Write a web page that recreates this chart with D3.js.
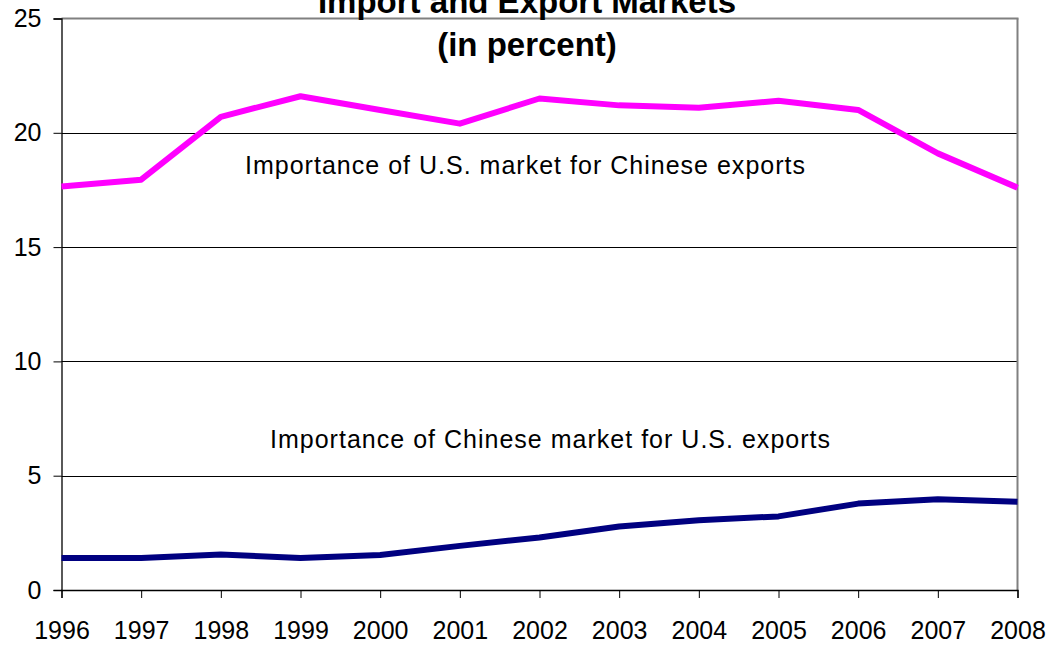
<!DOCTYPE html>
<html>
<head>
<meta charset="utf-8">
<script src="https://cdn.jsdelivr.net/npm/d3@7"></script>
<style>
  html, body { margin: 0; padding: 0; background: #fff; }
  svg { display: block; font-family: "Liberation Sans", Arial, sans-serif; }
</style>
</head>
<body>
<svg id="chart" width="1052" height="647"></svg>
<script>
const years = [1996, 1997, 1998, 1999, 2000, 2001, 2002, 2003, 2004, 2005, 2006, 2007, 2008];
const usMarketForChina = [17.65, 17.95, 20.7, 21.6, 21.0, 20.4, 21.5, 21.2, 21.1, 21.4, 21.0, 19.1, 17.6];
const chinaMarketForUS = [1.4, 1.4, 1.55, 1.4, 1.53, 1.93, 2.3, 2.78, 3.05, 3.22, 3.78, 3.97, 3.86];
const yTicks = [0, 5, 10, 15, 20, 25];
const titleLines = ["Import and Export Markets", "(in percent)"];
const labelUS = "Importance of U.S. market for Chinese exports";
const labelCN = "Importance of Chinese market for U.S. exports";

(function () {
const FONT = "'Liberation Sans', Arial, sans-serif";
const svg = d3.select("#chart");
const pLeft = 61.5, pRight = 1017.5, pTop = 18.5, pBottom = 590;

const x = d3.scalePoint().domain(years).range([pLeft, pRight]);
const y = d3.scaleLinear().domain([0, 25]).range([pBottom, pTop]);

// gridlines
svg.append("g").selectAll("line").data(yTicks.filter(d => d > 0 && d < 25)).join("line")
  .attr("x1", pLeft).attr("x2", pRight)
  .attr("y1", d => Math.round(y(d)) + 0.5).attr("y2", d => Math.round(y(d)) + 0.5)
  .attr("stroke", "#000").attr("stroke-width", 1);

// top and right border (gray)
svg.append("line").attr("x1", pLeft).attr("x2", pRight + 1).attr("y1", y(25)).attr("y2", y(25))
  .attr("stroke", "#808080").attr("stroke-width", 2);
svg.append("line").attr("x1", pRight).attr("x2", pRight).attr("y1", y(25)).attr("y2", pBottom)
  .attr("stroke", "#808080").attr("stroke-width", 2);

// y axis
const yAxis = d3.axisLeft(y).tickValues(yTicks).tickSize(8).tickPadding(12).tickFormat(d3.format("d"));
const gy = svg.append("g").attr("transform", `translate(${pLeft},0)`).call(yAxis);
gy.attr("font-family", FONT);
gy.select(".domain").attr("stroke", "#000").attr("stroke-width", 1.3);
gy.selectAll(".tick line").attr("stroke", "#000");
gy.selectAll("text").attr("font-size", 25).attr("fill", "#000").attr("font-family", FONT);

// x axis
const xAxis = d3.axisBottom(x).tickSize(8).tickPadding(23).tickFormat(d3.format("d"));
const gx = svg.append("g").attr("transform", `translate(0,${pBottom})`).call(xAxis);
gx.attr("font-family", FONT);
gx.select(".domain").attr("stroke", "#000").attr("stroke-width", 1.3);
gx.selectAll(".tick line").attr("stroke", "#000");
gx.selectAll("text").attr("font-size", 25).attr("fill", "#000").attr("font-family", FONT);

// lines
const line = d3.line().x((d, i) => x(years[i])).y(d => y(d));
svg.append("path").datum(usMarketForChina).attr("d", line)
  .attr("fill", "none").attr("stroke", "#FF00FF").attr("stroke-width", 6).attr("stroke-linejoin", "round");
svg.append("path").datum(chinaMarketForUS).attr("d", line)
  .attr("fill", "none").attr("stroke", "#000080").attr("stroke-width", 6).attr("stroke-linejoin", "round");

// annotations
svg.append("text").attr("x", 245).attr("y", 174).attr("font-size", 25).attr("font-family", FONT)
  .attr("textLength", 560).attr("lengthAdjust", "spacing").attr("fill", "#000").text(labelUS);
svg.append("text").attr("x", 270).attr("y", 448).attr("font-size", 25).attr("font-family", FONT)
  .attr("textLength", 560).attr("lengthAdjust", "spacing").attr("fill", "#000").text(labelCN);

// title (top line is partly cut off in the original)
svg.append("text").attr("x", 527).attr("y", 13).attr("text-anchor", "middle").attr("font-family", FONT)
  .attr("font-size", 33).attr("font-weight", "bold").attr("fill", "#000").text(titleLines[0]);
svg.append("text").attr("x", 527).attr("y", 56).attr("text-anchor", "middle").attr("font-family", FONT)
  .attr("font-size", 33).attr("font-weight", "bold").attr("fill", "#000").text(titleLines[1]);
})();
</script>
</body>
</html>
